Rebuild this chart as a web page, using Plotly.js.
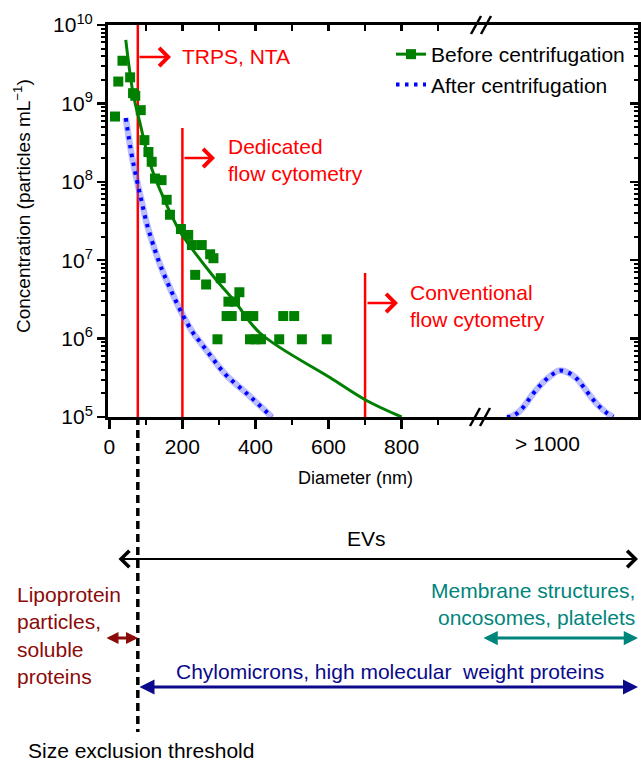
<!DOCTYPE html>
<html><head><meta charset="utf-8">
<script src="https://cdn.plot.ly/plotly-3.0.1.min.js"></script>
<style>html,body{margin:0;padding:0;background:#fff}#chart{width:641px;height:762px}</style>
</head><body><div id="chart"></div>
<script>
// ---- data ----
const beforeX = [15.6, 24.6, 36, 57, 65, 71, 86, 96, 107, 116, 125, 143, 157, 166, 196, 216, 226, 253, 276, 285, 235, 265, 305, 356, 326, 344, 321, 335, 374, 394, 476, 506, 296, 385, 400, 415, 465, 527, 595];
const beforeY = [6.8e8, 1.9e9, 3.5e9, 2.15e9, 1.35e9, 1.25e9, 8.2e8, 3.4e8, 2.4e8, 1.8e8, 1.1e8, 1.05e8, 5.9e7, 3.8e7, 2.5e7, 2.1e7, 1.56e7, 1.56e7, 1.19e7, 1.06e7, 6.5e6, 4.9e6, 5.9e6, 3.9e6, 2.96e6, 2.96e6, 1.94e6, 1.94e6, 1.94e6, 1.94e6, 1.94e6, 1.94e6, 9.8e5, 9.8e5, 9.8e5, 9.8e5, 9.8e5, 9.8e5, 9.8e5];
const fitX = [45, 65, 84, 111, 143, 189, 198, 285, 344, 413, 605, 700, 800];
const fitY = [6.46e9, 1.35e9, 5.6e8, 1.74e8, 7.1e7, 2.5e7, 2.14e7, 6.2e6, 2.95e6, 1.17e6, 3.16e5, 1.66e5, 1.0e5];
const afterX = [45, 61, 75, 88, 102, 120, 140, 170, 201, 230, 248, 285, 303, 326, 376, 445];
const afterY = [6.5e8, 2.24e8, 1.07e8, 5.75e7, 3.0e7, 1.58e7, 8.5e6, 4.0e6, 2.0e6, 1.17e6, 9.1e5, 5.4e5, 4.2e5, 3.2e5, 2.0e5, 1.0e5];
// the "> 1000" part of the axis (display positions after the axis break)
const bigX = [1088, 1101, 1124, 1162, 1185, 1206, 1231, 1255, 1279, 1297, 1316, 1338, 1359, 1379];
const bigY = [1.0e5, 1.02e5, 1.2e5, 2.04e5, 2.7e5, 3.3e5, 3.9e5, 3.7e5, 3.1e5, 2.45e5, 1.86e5, 1.41e5, 1.15e5, 1.0e5];
const methodLimits = [78, 200, 700];
const methodLabels = ['TRPS, NTA', 'Dedicated<br>flow cytometry', 'Conventional<br>flow cytometry'];
const xTickVals = [0, 200, 400, 600, 800];
const xTickText = ['0', '200', '400', '600', '800'];
const xMinorVals = [100, 300, 500, 700, 900];
const yTickVals = [1e5, 1e6, 1e7, 1e8, 1e9, 1e10];
const yTickText = ['10<sup>5</sup>', '10<sup>6</sup>', '10<sup>7</sup>', '10<sup>8</sup>', '10<sup>9</sup>', '10<sup>10</sup>'];
const sizeExclusion = 78;

// ---- layout helpers (pixel -> paper) ----
const L = 108, T = 25, W = 530, H = 392;
const PX = p => (p - L) / W;
const PY = p => (T + H - p) / H;
const FONT = 'Liberation Sans, Arial, Helvetica, sans-serif';
const FS = 21;
const GREEN = '#008000', BLUE = '#0000ff', BAND = 'rgba(90,100,255,0.42)', RED = '#ff0000';
const DRED = '#8b0a0a', TEAL = '#00857c', NAVY = '#0a0a8a';

const yMinor = [];
for (let e = 5; e < 10; e++) for (let m = 2; m <= 9; m++) yMinor.push(m * Math.pow(10, e));

const traces = [
  {x: fitX, y: fitY, mode: 'lines', line: {color: GREEN, width: 3, shape: 'spline'}, showlegend: false, hoverinfo: 'skip'},
  {x: beforeX, y: beforeY, mode: 'markers', marker: {symbol: 'square', size: 10, color: GREEN}, showlegend: false},
  {x: [null], y: [null], mode: 'lines+markers', name: 'Before centrifugation', line: {color: GREEN, width: 3}, marker: {symbol: 'square', size: 10, color: GREEN}},
  {x: afterX, y: afterY, mode: 'lines', line: {color: BAND, width: 6.5, shape: 'spline'}, showlegend: false, hoverinfo: 'skip'},
  {x: afterX, y: afterY, mode: 'lines', name: 'After centrifugation', line: {color: BLUE, width: 4, dash: '3.5px,5.5px', shape: 'spline'}},
  {x: bigX, y: bigY, mode: 'lines', line: {color: BAND, width: 6.5, shape: 'spline'}, showlegend: false, hoverinfo: 'skip'},
  {x: bigX, y: bigY, mode: 'lines', line: {color: BLUE, width: 4, dash: '3.5px,5.5px', shape: 'spline'}, showlegend: false},
  {x: [], y: [], xaxis: 'x2', yaxis: 'y2', showlegend: false}
];

const xr = [-3.6, 1447];
const shapes = [];
const tops = [1, PY(128), PY(273)];
methodLimits.forEach((v, i) => shapes.push({type: 'line', xref: 'x', yref: 'paper', x0: v, x1: v, y0: 0, y1: tops[i], line: {color: RED, width: 2.5}, layer: 'below'}));
shapes.push({type: 'line', xref: 'x', yref: 'paper', x0: sizeExclusion, x1: sizeExclusion, y0: 0, y1: PY(732), line: {color: '#000', width: 3.5, dash: '8px,5px'}});
// axis-break marks
[[470, 480], [480, 490]].forEach(([a, b]) => {
  shapes.push({type: 'line', xref: 'paper', yref: 'paper', x0: PX(a), x1: PX(b), y0: PY(426), y1: PY(408), line: {color: '#000', width: 2.5}});
  shapes.push({type: 'line', xref: 'paper', yref: 'paper', x0: PX(a + 1), x1: PX(b + 1), y0: PY(34), y1: PY(16), line: {color: '#000', width: 2.5}});
});

const ann = [];
const txt = (text, px, py, opts) => ann.push(Object.assign({text, xref: 'paper', yref: 'paper', x: PX(px), y: PY(py), showarrow: false, xanchor: 'left', yanchor: 'middle', align: 'left', font: {family: FONT, size: FS, color: '#000'}}, opts || {}));
const arrow = (hx, hy, tx, color, width, head, size, both) => ann.push({text: '', xref: 'paper', yref: 'paper', x: PX(hx), y: PY(hy), ax: tx - hx, ay: 0, axref: 'pixel', ayref: 'pixel', showarrow: true, arrowcolor: color, arrowwidth: width, arrowhead: head, startarrowhead: head, arrowsize: size, startarrowsize: size, arrowside: both ? 'end+start' : 'end', standoff: 0, startstandoff: 0});

txt(methodLabels[0], 180, 57, {font: {family: FONT, size: FS, color: RED}});
txt(methodLabels[1], 226, 160, {font: {family: FONT, size: FS, color: RED}});
txt(methodLabels[2], 408, 306, {font: {family: FONT, size: FS, color: RED}});
arrow(171, 57, 138, RED, 2.5, 4, 1.4);
arrow(215, 158, 183, RED, 2.5, 4, 1.4);
arrow(398, 303, 366, RED, 2.5, 4, 1.4);

txt('Diameter (nm)', 355, 478, {xanchor: 'center', font: {family: FONT, size: 18, color: '#000'}});
txt('Concentration (particles mL<sup>\u22121</sup>)', 22, 206, {xanchor: 'center', textangle: -90, font: {family: FONT, size: 19, color: '#000'}});
txt('> 1000', 547, 444, {xanchor: 'center'});

txt('EVs', 366, 538, {xanchor: 'center'});
arrow(638, 559, 117, '#000', 2, 4, 1.6, true);
txt('Lipoprotein<br>particles,<br>soluble<br>proteins', 15, 635, {font: {family: FONT, size: FS, color: DRED}});
arrow(138, 638, 105, DRED, 3, 2, 0.8, true);
txt('Membrane structures,<br>oncosomes, platelets', 637, 604, {xanchor: 'right', align: 'right', font: {family: FONT, size: FS, color: TEAL}});
arrow(638, 638, 482, TEAL, 3, 2, 0.95, true);
txt('Chylomicrons, high molecular\u00a0 weight proteins', 390, 671, {xanchor: 'center', font: {family: FONT, size: FS, color: NAVY}});
arrow(638, 687, 138, NAVY, 3, 2, 1, true);
txt('Size exclusion threshold', 141, 750, {xanchor: 'center'});

const axisCommon = {showgrid: false, zeroline: false, showline: true, linecolor: '#000', linewidth: 3, tickcolor: '#000', tickwidth: 2.5};

const layout = {
  width: 641, height: 762,
  margin: {l: L, r: 641 - L - W, t: T, b: 762 - T - H, pad: 0},
  paper_bgcolor: '#fff', plot_bgcolor: '#fff',
  font: {family: FONT, size: FS, color: '#000'},
  showlegend: true,
  legend: {x: PX(391), y: PY(34), xanchor: 'left', yanchor: 'top', bgcolor: 'rgba(0,0,0,0)', borderwidth: 0, font: {family: FONT, size: FS, color: '#000'}},
  xaxis: Object.assign({}, axisCommon, {range: xr, tickmode: 'array', tickvals: xTickVals, ticktext: xTickText, ticks: 'outside', ticklen: 9,
    tickfont: {family: FONT, size: FS, color: '#000'},
    minor: {tickmode: 'array', tickvals: xMinorVals, ticks: 'outside', ticklen: 5, tickwidth: 2.5, tickcolor: '#000'}}),
  xaxis2: Object.assign({}, axisCommon, {range: xr, overlaying: 'x', side: 'top', anchor: 'y', tickmode: 'array', tickvals: xMinorVals.concat([200, 400, 600, 800]), ticks: 'inside', ticklen: 6, showticklabels: false}),
  yaxis: Object.assign({}, axisCommon, {type: 'log', range: [5, 10], tickmode: 'array', tickvals: yTickVals, ticktext: yTickText, ticks: 'outside', ticklen: 8,
    tickfont: {family: FONT, size: FS, color: '#000'},
    minor: {tickmode: 'array', tickvals: yMinor, ticks: 'outside', ticklen: 4, tickwidth: 2, tickcolor: '#000'}}),
  yaxis2: Object.assign({}, axisCommon, {type: 'log', range: [5, 10], overlaying: 'y', side: 'right', anchor: 'x', tickmode: 'array', tickvals: yTickVals, ticks: 'inside', ticklen: 8, showticklabels: false,
    minor: {tickmode: 'array', tickvals: yMinor, ticks: 'inside', ticklen: 4, tickwidth: 2, tickcolor: '#000'}}),
  shapes: shapes,
  annotations: ann
};

Plotly.newPlot('chart', traces, layout, {displayModeBar: false, staticPlot: true});
</script></body></html>
